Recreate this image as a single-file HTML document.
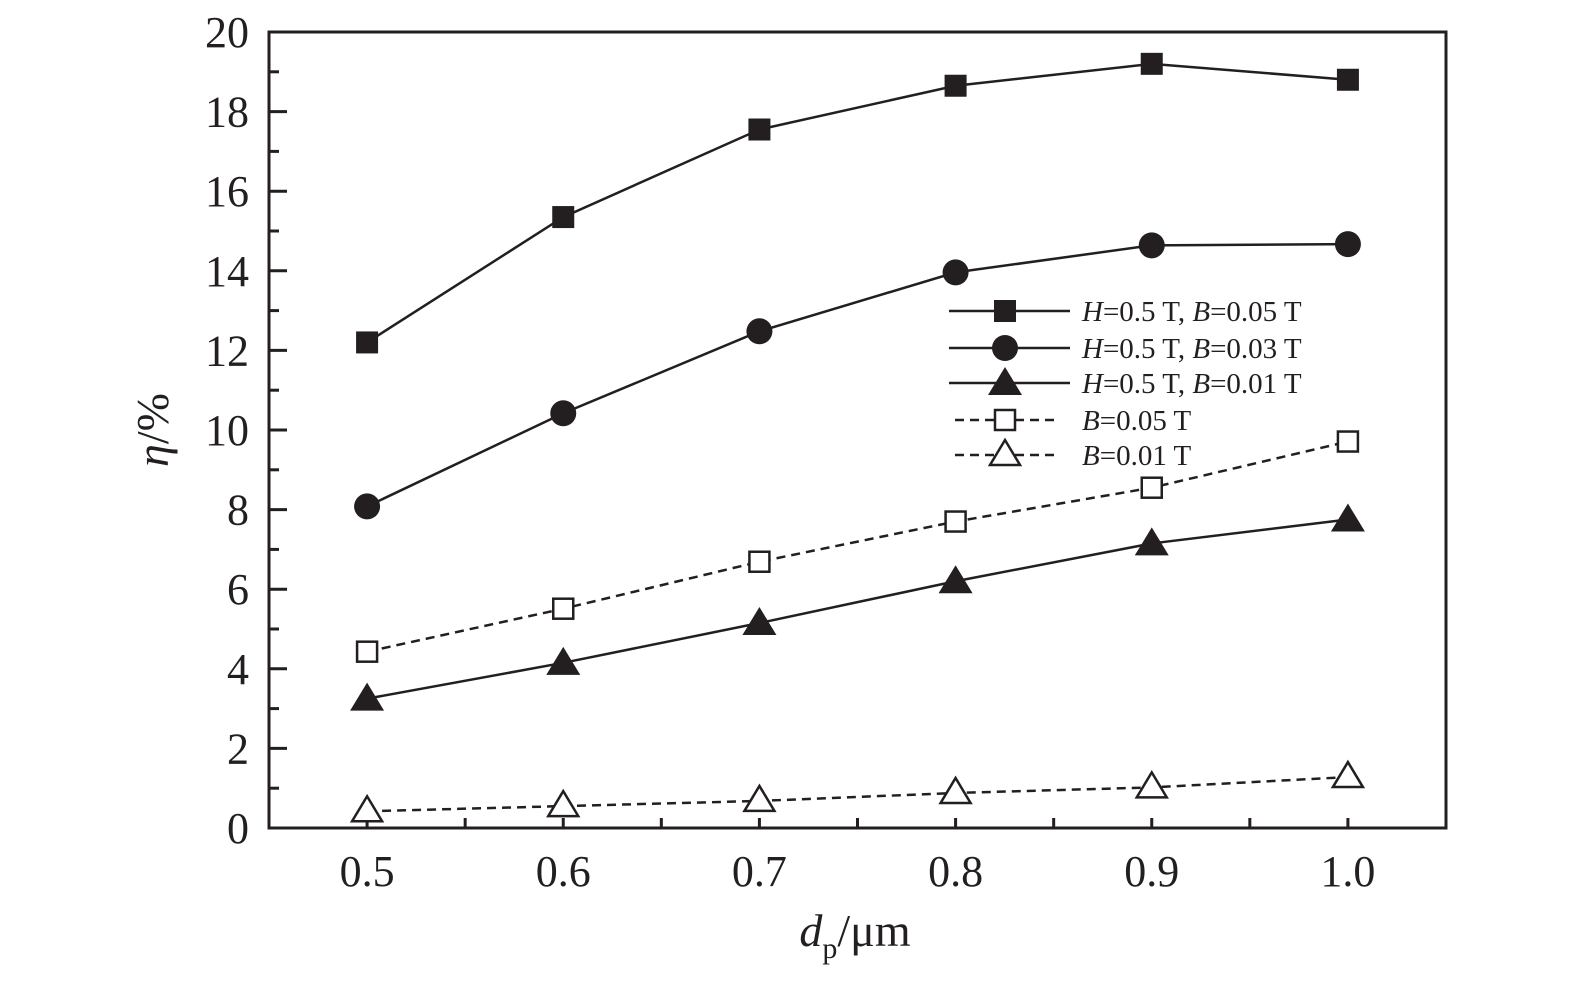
<!DOCTYPE html>
<html><head><meta charset="utf-8"><style>
body{margin:0;background:#fff}
svg text{font-family:"Liberation Serif",serif;fill:#231f20}
</style></head><body>
<svg id="chart" width="1575" height="982" viewBox="0 0 1575 982">
<g id="axes"></g><g id="series"></g><g id="legend"></g>
</svg>
<script>
const categories=[0.5,0.6,0.7,0.8,0.9,1.0];
const sHB005=[12.2,15.35,17.55,18.65,19.2,18.8];
const sHB003=[8.08,10.42,12.48,13.96,14.64,14.67];
const sHB001=[3.25,4.15,5.15,6.2,7.15,7.75];
const sB005=[4.43,5.51,6.69,7.7,8.55,9.71];
const sB001=[0.42,0.55,0.68,0.88,1.02,1.28];
const yTicks=[0,2,4,6,8,10,12,14,16,18,20];
const xTickLabels=["0.5","0.6","0.7","0.8","0.9","1.0"];
const legendLabels=[["H","=0.5 T, ","B","=0.05 T"],["H","=0.5 T, ","B","=0.03 T"],["H","=0.5 T, ","B","=0.01 T"],["","","B","=0.05 T"],["","","B","=0.01 T"]];

const L=269,R=1446,T=32,B=828;
const X=v=>L+(v-0.45)/(0.6)*(R-L);
const Y=v=>B-v/20*(B-T);
const NS="http://www.w3.org/2000/svg";
function mk(tag,attrs,parent){const e=document.createElementNS(NS,tag);for(const k in attrs)e.setAttribute(k,attrs[k]);parent.appendChild(e);return e;}
const ax=document.getElementById('axes'),sg=document.getElementById('series'),lg=document.getElementById('legend');
const C="#231f20";
let f=mk('rect',{x:L,y:T,width:R-L,height:B-T,fill:'none',stroke:C,'stroke-width':3},ax);


for(let v=0;v<=20;v+=1){const maj=v%2===0;let t=mk('line',{x1:L,x2:L+(maj?18:10),y1:Y(v),y2:Y(v),stroke:C,'stroke-width':3},ax);

}
yTicks.forEach(v=>{let t=mk('text',{x:L-20,y:Y(v)+15,'font-size':44,'text-anchor':'end'},ax);t.textContent=v;

});
for(let i=0;i<=11;i++){const v=0.45+i*0.05;let t=mk('line',{x1:X(v),x2:X(v),y1:B,y2:B-10,stroke:C,'stroke-width':3},ax);

}
categories.forEach((c,i)=>{let t=mk('text',{x:X(c),y:B+58,'font-size':44,'text-anchor':'middle'},ax);t.textContent=xTickLabels[i];

});
let xt=mk('text',{x:855,y:946,'font-size':46,'text-anchor':'middle'},ax);
xt.innerHTML='<tspan font-style="italic">d</tspan><tspan font-size="30" dy="12">p</tspan><tspan dy="-12">/μm</tspan>';


let yt=mk('text',{x:0,y:0,'font-size':46,'text-anchor':'middle',transform:'translate(168,430) rotate(-90)'},ax);
yt.innerHTML='<tspan font-style="italic">η</tspan>/%';



function marker(type,x,y,g){
 if(type==='fsq')return mk('rect',{x:x-11,y:y-11,width:22,height:22,fill:C},g);
 if(type==='fci')return mk('circle',{cx:x,cy:y,r:13,fill:C},g);
 if(type==='ftr')return mk('polygon',{points:`${x},${y-16} ${x+17},${y+12} ${x-17},${y+12}`,fill:C},g);
 if(type==='osq')return mk('rect',{x:x-10,y:y-10,width:20,height:20,fill:'#fff',stroke:C,'stroke-width':2.5},g);
 if(type==='otr')return mk('polygon',{points:`${x},${y-15} ${x+15},${y+10} ${x-15},${y+10}`,fill:'#fff',stroke:C,'stroke-width':2.5},g);
}
const series=[[sHB005,'fsq',false,'series-h05-b005'],[sHB003,'fci',false,'series-h05-b003'],[sHB001,'ftr',false,'series-h05-b001'],[sB005,'osq',true,'series-b005'],[sB001,'otr',true,'series-b001']];
series.forEach(([d,m,dash,name])=>{
 const g=mk('g',{},sg);
 
 
 const pl=mk('polyline',{points:d.map((v,i)=>X(categories[i])+','+Y(v)).join(' '),fill:'none',stroke:C,'stroke-width':2.5,'stroke-dasharray':dash?'9,6':'none'},g);
 
 
 d.forEach((v,i)=>{const e=marker(m,X(categories[i]),Y(v),g);
 
 });
});
const rows=[311,348,383,420,455];
series.forEach(([d,m,dash],i)=>{
 const g=mk('g',{},lg);
 
 
 mk('line',{x1:dash?955:949,x2:dash?1060:1070,y1:rows[i],y2:rows[i],stroke:C,'stroke-width':2.5,'stroke-dasharray':dash?'9,6':'none'},g);
 marker(m,1005,rows[i],g);
 const t=mk('text',{x:1082,y:rows[i]+10,'font-size':29},g);
 const p=legendLabels[i];
 t.innerHTML=`<tspan font-style="italic">${p[0]}</tspan>${p[1]}<tspan font-style="italic">${p[2]}</tspan>${p[3]}`;
});
</script>
</body></html>
